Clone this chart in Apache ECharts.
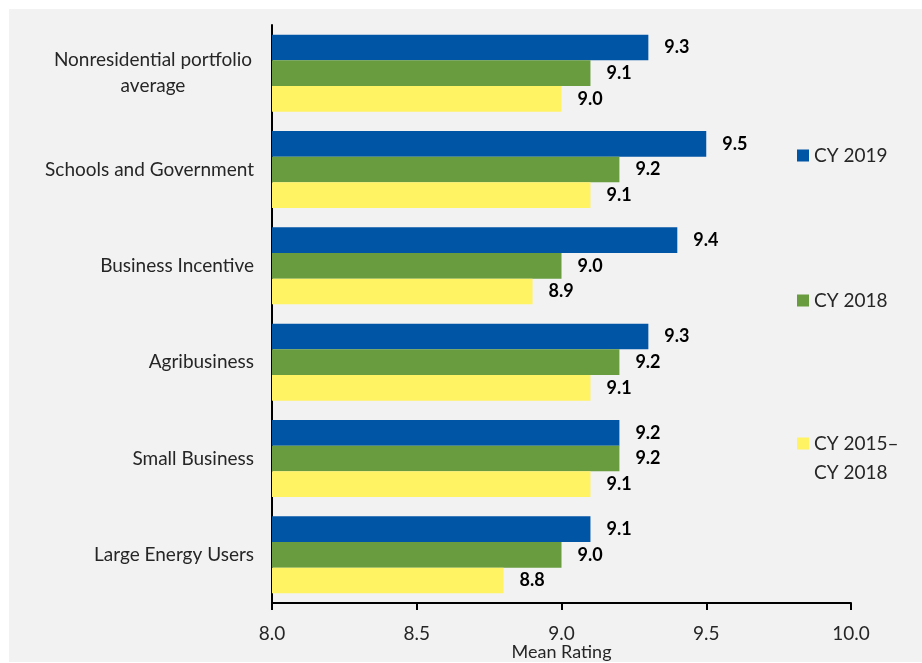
<!DOCTYPE html>
<html><head><meta charset="utf-8">
<script src="https://cdn.jsdelivr.net/npm/echarts@6/dist/echarts.min.js"></script>
<style>html,body{margin:0;padding:0;background:#fff;}#c{width:922px;height:663px;}</style>
</head><body><div id="c"></div>
<script>
const categories = ['Nonresidential portfolio\naverage','Schools and Government','Business Incentive','Agribusiness','Small Business','Large Energy Users'];
const seriesNames = ['CY 2019','CY 2018','CY 2015–\nCY 2018'];
const cy2019 = [9.3, 9.5, 9.4, 9.3, 9.2, 9.1];
const cy2018 = [9.1, 9.2, 9.0, 9.2, 9.2, 9.0];
const cy2015to2018 = [9.0, 9.1, 8.9, 9.1, 9.1, 8.8];
const xTicks = [8.0, 8.5, 9.0, 9.5, 10.0];
const colors = ['#0055A5', '#699C3F', '#FFF263'];
const FONT = 'Lato';

const chart = echarts.init(document.getElementById('c'));
const values = [cy2019, cy2018, cy2015to2018];
const legendTops = [141, 286, 400];
chart.setOption({
  animation: false,
  textStyle: {fontFamily: FONT},
  graphic: [{type: 'rect', shape: {x: 9, y: 9, width: 913, height: 653}, style: {fill: '#F2F2F2'}, z: -10, silent: true}],
  grid: {left: 272, top: 25, width: 579, height: 578, containLabel: false, outerBoundsMode: 'none'},
  legend: seriesNames.map((n, i) => ({
    data: [n], left: 797, top: legendTops[i], orient: 'vertical', padding: 0,
    itemWidth: 12, itemHeight: 12, icon: 'rect', selectedMode: false,
    formatter: i === 2 ? (name => ' \n' + name) : (name => name),
    textStyle: {fontFamily: FONT, fontSize: 19, color: '#262626', lineHeight: 29}
  })),
  xAxis: {
    type: 'value', min: 8.0, max: 10.0, interval: 0.5,
    splitLine: {show: false},
    axisLine: {show: true, lineStyle: {color: '#000', width: 2}},
    axisTick: {show: true, length: 7, lineStyle: {color: '#000', width: 2}},
    axisLabel: {margin: 21, fontSize: 19, color: '#262626', fontFamily: FONT,
      formatter: v => (xTicks.includes(v) ? v.toFixed(1) : '')},
    name: 'Mean Rating', nameLocation: 'middle', nameGap: 40, nameMoveOverlap: false,
    nameTextStyle: {fontSize: 18, color: '#262626', fontFamily: FONT}
  },
  yAxis: {
    type: 'category', data: categories, inverse: true,
    axisLine: {show: true, lineStyle: {color: '#000', width: 2}},
    axisTick: {show: false},
    axisLabel: {margin: 18, fontSize: 19, color: '#262626', fontFamily: FONT, lineHeight: 26, align: 'right',
      formatter: v => v.includes('\n') ? v.split('\n').map(s => '{c|' + s + '}').join('\n') : v,
      rich: {c: {width: 202, align: 'center', fontSize: 19, color: '#262626', fontFamily: FONT, lineHeight: 26}}},
    splitLine: {show: false}
  },
  series: seriesNames.map((n, i) => ({
    name: n, type: 'bar', data: values[i],
    barGap: '0%', barCategoryGap: '20%',
    itemStyle: {color: colors[i]},
    label: {show: true, position: 'right', distance: 16, fontWeight: 'bold', fontSize: 18, color: '#000', fontFamily: FONT,
      formatter: p => p.value.toFixed(1)}
  }))
});
</script></body></html>
